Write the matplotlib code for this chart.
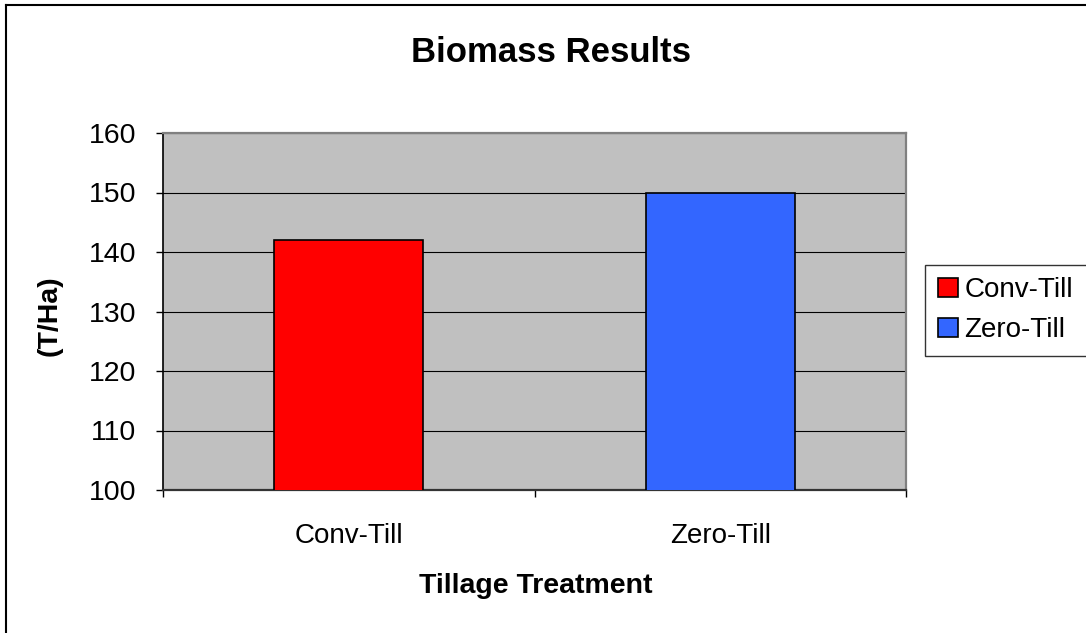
import matplotlib
matplotlib.use("Agg")
import matplotlib.pyplot as plt
from matplotlib.lines import Line2D

# datos del grafico
categorias = ["Conv-Till", "Zero-Till"]
biomasa = [142, 150]
colores = ["#FF0000", "#3366FF"]
y_ticks = [100, 110, 120, 130, 140, 150, 160]

plt.rcParams['font.family'] = ['Liberation Sans', 'DejaVu Sans']

W, H = 1086, 633
fig = plt.figure(figsize=(W / 100, H / 100), dpi=100)
fig.patch.set_facecolor("white")

# area del grafico (en pixeles del original)
x0, x1, y0, y1 = 163, 906, 133, 490
ax = fig.add_axes([x0 / W, 1 - y1 / H, (x1 - x0) / W, (y1 - y0) / H])
ax.set_facecolor("#C0C0C0")

pos = list(range(len(categorias)))
barras = ax.bar(pos, biomasa, width=0.4, color=colores, edgecolor="black",
                linewidth=1.2, zorder=3, label=categorias)

ax.set_xlim(-0.5, len(categorias) - 0.5)
ax.set_ylim(y_ticks[0], y_ticks[-1])
ax.set_yticks(y_ticks)
ax.yaxis.grid(True, color="black", linewidth=0.8, zorder=1)
ax.set_axisbelow(True)

ax.set_xticks(pos)
ax.set_xticklabels(categorias, fontsize=20)
ax.set_xticks([p - 0.5 for p in pos] + [pos[-1] + 0.5], minor=True)
ax.tick_params(axis="x", which="major", length=0, pad=24)
ax.tick_params(axis="x", which="minor", length=5, width=1, color="black")
ax.tick_params(axis="y", labelsize=20.5, length=5, width=1, pad=14)

ax.spines["left"].set_color("black")
ax.spines["left"].set_linewidth(1.2)
ax.spines["bottom"].set_color("#333333")
ax.spines["bottom"].set_linewidth(1.6)
ax.spines["top"].set_color("#808080")
ax.spines["top"].set_linewidth(1.6)
ax.spines["right"].set_color("#808080")
ax.spines["right"].set_linewidth(1.6)

# textos
fig.text(551 / W, 1 - 52 / H, "Biomass Results", ha="center", va="center",
         fontsize=25, fontweight="bold")
fig.text(536 / W, 1 - 586 / H, "Tillage Treatment", ha="center", va="center",
         fontsize=20.5, fontweight="bold")
fig.text(50 / W, 1 - 316 / H, "(T/Ha)", ha="center", va="center",
         rotation=90, fontsize=20.5, fontweight="bold")

# leyenda
leg = fig.legend(handles=barras.patches, labels=categorias, loc="upper left",
                 bbox_to_anchor=(925 / W, 1 - 265 / H, 0.2, 0), mode="expand",
                 borderaxespad=0, fontsize=20, frameon=True, fancybox=False,
                 handlelength=0.72, handleheight=0.7, handletextpad=0.25,
                 labelspacing=0.5, borderpad=0.45)
leg.get_frame().set_edgecolor("black")
leg.get_frame().set_linewidth(1.0)

# borde exterior
fig.add_artist(Line2D([6 / W, 1.0], [1 - 5 / H, 1 - 5 / H], color="black",
                      linewidth=1.5, transform=fig.transFigure))
fig.add_artist(Line2D([6 / W, 6 / W], [1 - 5 / H, 0.0], color="black",
                      linewidth=1.5, transform=fig.transFigure))

plt.savefig("out.png", dpi=100)
